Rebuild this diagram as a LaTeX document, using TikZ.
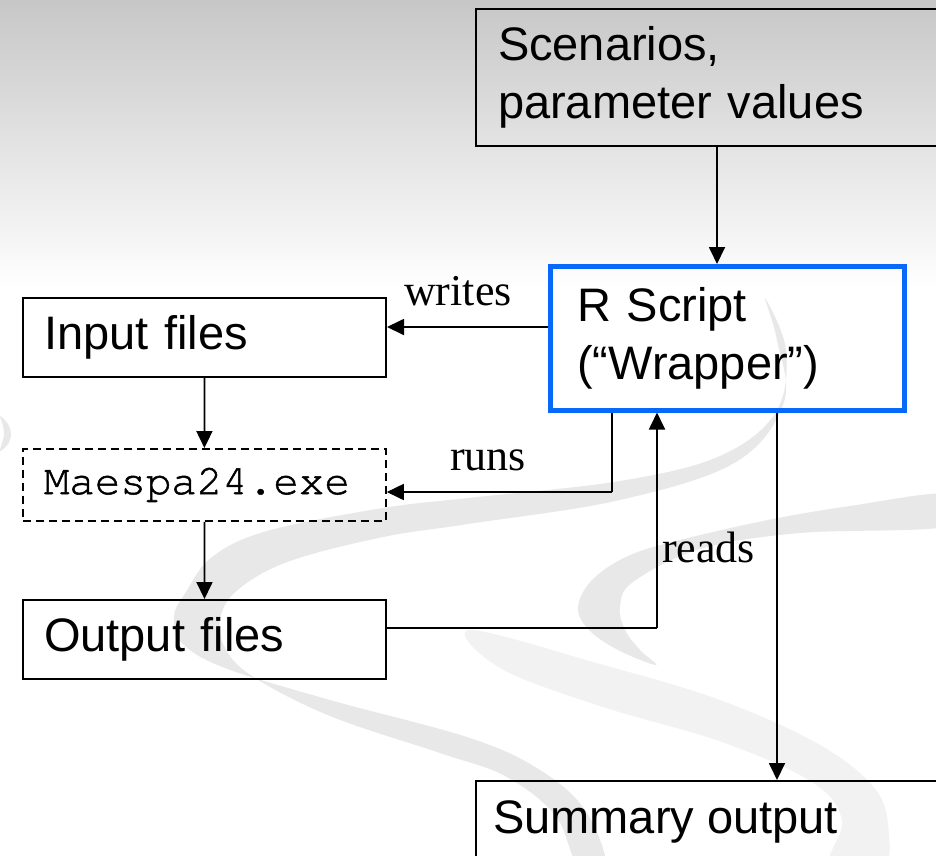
\documentclass[tikz,border=0pt]{standalone}
\usepackage{fontspec}
\setmainfont{Liberation Serif}
\newfontfamily\arialf{Liberation Sans}
\newfontfamily\courf[FakeBold=1.2]{texgyrecursor-regular.otf}
\usetikzlibrary{arrows.meta}
\definecolor{wrapblue}{RGB}{8,104,250}
\tikzset{
  box/.style={draw=black, line width=2pt, anchor=north west, inner xsep=21pt,
    inner ysep=0pt, align=left, font=\arialf\fontsize{47}{58}\selectfont},
  exebox/.style={box, dashed, dash pattern=on 8pt off 5pt, line width=1.8pt,
    font=\courf\fontsize{42.5}{50}\selectfont},
  wrapbox/.style={box, draw=wrapblue, line width=4.5pt, inner xsep=27pt},
  link/.style={line width=1.8pt, -{Triangle[length=17pt,width=16pt]}},
  plain/.style={line width=1.8pt},
  verb/.style={anchor=base west, inner sep=0pt, font=\fontsize{44}{50}\selectfont},
  swirl/.style={fill=black!9, draw=none},
  swirlpale/.style={fill=black!5, draw=none}
}
\begin{document}
\begin{tikzpicture}[x=1pt,y=-1pt]
\useasboundingbox (0,0) rectangle (936,855);
\clip (0,0) rectangle (936,855);

% backdrop: grey fade at the top and pale ribbons
\fill[white] (0,0) rectangle (936,855);
\shade[top color=black!22, bottom color=white] (0,0) rectangle (936,290);
\fill[swirlpale] plot[smooth cycle, tension=0.6] coordinates {
  (470,630) (600,664) (720,700) (820,745) (876,790) (889,835) (882,865)
  (830,865) (842,820) (812,782) (722,742) (600,706) (500,668)};
\fill[swirl] plot[smooth cycle, tension=0.6] coordinates {
  (765,298) (786,350) (776,412) (720,456) (620,481) (468,498) (383,508)
  (267,531) (212,557) (186,592) (174,616) (182,643) (225,668) (330,700)
  (470,738) (540,770) (585,810) (606,865)
  (578,865) (555,815) (505,776) (440,753) (330,716) (252,676) (224,646)
  (221,615) (240,588) (290,561) (383,537) (468,524) (620,500) (736,462)
  (784,402) (777,340)};
\fill[swirl] plot[smooth cycle, tension=0.6] coordinates {
  (950,494) (850,506) (768,520) (680,540) (628,556) (592,580) (578,608)
  (590,631) (620,651) (656,665)
  (640,650) (625,630) (620,607) (633,582) (700,549) (800,533) (950,526)};
\fill[swirl] plot[smooth cycle, tension=0.6] coordinates {
  (0,416) (8,424) (11,434) (8,444) (0,451) (3,440) (4,432) (2,422)};

% boxes
\node[box, minimum width=500pt, minimum height=137pt, text width=456pt]
  (scen) at (475,8) {Scenarios,\\parameter values};
\node[wrapbox, minimum width=354pt, minimum height=144pt, text width=300pt]
  (wrap) at (548,264) {R Script\\(“Wrapper”)};
\node[box, minimum width=363pt, minimum height=79pt, text width=321pt]
  (inp) at (22,297) {Input files};
\node[exebox, minimum width=363pt, minimum height=72pt, text width=321pt]
  (exe) at (22,448) {Maespa24.exe};
\node[box, minimum width=363pt, minimum height=79pt, text width=321pt]
  (outf) at (22,599) {Output files};
\node[box, minimum width=500pt, minimum height=120pt] (summ) at (475,780) {};
\node[anchor=base west, inner sep=0pt, font=\arialf\fontsize{47}{58}\selectfont]
  (summtxt) at (493,833) {Summary output};

% columns and rows the connectors run along
\coordinate (colscen) at (717,0);
\coordinate (colruns) at (612,0);
\coordinate (colreads) at (657,0);
\coordinate (colsumm) at (777,0);
\coordinate (rowwrites) at (0,327);
\coordinate (rowruns) at (0,492);
\coordinate (rowreads) at (0,628);
\coordinate (runsbend) at (612,492);
\coordinate (readsbend) at (657,628);

% connectors
\draw[link] (scen.south -| colscen) -- (wrap.north -| colscen);
\draw[link] (wrap.west |- rowwrites) -- (inp.east |- rowwrites);
\draw[link] (inp.south) -- (exe.north);
\draw[link] (exe.south) -- (outf.north);
\draw[plain] (wrap.south -| colruns) -- (runsbend);
\draw[link] (runsbend) -- (exe.east |- rowruns);
\draw[plain] (outf.east |- rowreads) -- (readsbend);
\draw[link] (readsbend) -- (wrap.south -| colreads);
\draw[link] (wrap.south -| colsumm) -- (summ.north -| colsumm);

% connector labels
\node[verb] (lwrites) at (404,305) {writes};
\node[verb] (lruns) at (450,470) {runs};
\node[verb] (lreads) at (662,562) {reads};
\end{tikzpicture}
\end{document}
